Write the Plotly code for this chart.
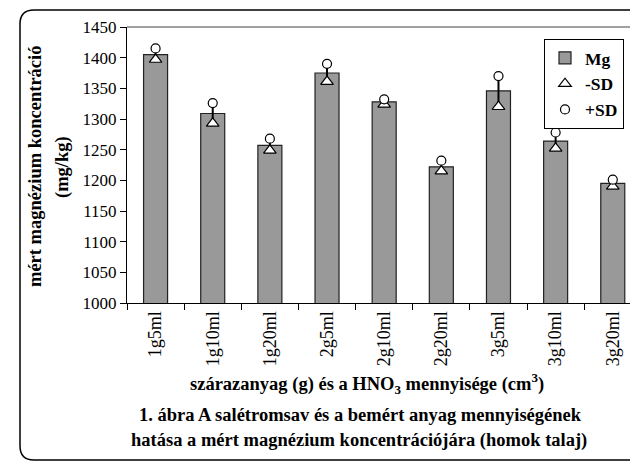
import plotly.graph_objects as go

categories = ["1g5ml", "1g10ml", "1g20ml", "2g5ml", "2g10ml", "2g20ml", "3g5ml", "3g10ml", "3g20ml"]
mg_values = [1405, 1309, 1257, 1375, 1328, 1222, 1346, 1264, 1195]
minus_sd = [1397, 1293, 1249, 1361, 1324, 1215, 1320, 1252, 1190]
plus_sd = [1415, 1326, 1268, 1390, 1332, 1232, 1370, 1278, 1201]

W, H = 630, 462
L, R, T, B = 127, 630, 27, 303  # plot area in pixels
FONT = "Liberation Serif"

def px(x):
    return (x - L) / (R - L)

def py(y):
    return (B - y) / (B - T)

fig = go.Figure()
fig.add_trace(go.Bar(
    x=categories, y=mg_values, name="<b>Mg</b>",
    marker=dict(color="#999999", line=dict(color="#222222", width=1.2)),
    width=0.42,
))
# error lines
ex, ey = [], []
for c, lo, hi in zip(categories, minus_sd, plus_sd):
    ex += [c, c, None]
    ey += [lo, hi, None]
fig.add_trace(go.Scatter(x=ex, y=ey, mode="lines", line=dict(color="black", width=2),
                         showlegend=False, hoverinfo="skip"))
fig.add_trace(go.Scatter(
    x=categories, y=minus_sd, mode="markers", name="<b>-SD</b>",
    marker=dict(symbol="triangle-up", size=11, color="white", line=dict(color="black", width=1.2)),
))
fig.add_trace(go.Scatter(
    x=categories, y=plus_sd, mode="markers", name="<b>+SD</b>",
    marker=dict(symbol="circle", size=9, color="white", line=dict(color="black", width=1.2)),
))

# outer rounded frame (left part, continuing off the right edge)
x0, y0, x1, y1, r = 20, 10, 660, 460, 14
path = (f"M {px(x1)} {py(y0)} L {px(x0 + r)} {py(y0)} "
        f"Q {px(x0)} {py(y0)} {px(x0)} {py(y0 + r)} "
        f"L {px(x0)} {py(y1 - r)} Q {px(x0)} {py(y1)} {px(x0 + r)} {py(y1)} "
        f"L {px(x1)} {py(y1)}")
shapes = [
    dict(type="path", xref="paper", yref="paper", path=path,
         line=dict(color="black", width=1.5), layer="below"),
    dict(type="line", xref="paper", yref="paper", x0=0, x1=1, y0=1, y1=1,
         line=dict(color="#808080", width=1.5)),
]

def ann(text, x, y, angle=0, size=18):
    return dict(text=text, xref="paper", yref="paper", x=px(x), y=py(y),
                xanchor="center", yanchor="middle", textangle=angle, showarrow=False,
                font=dict(family=FONT, size=size, color="black"))

annotations = [
    ann("<b>mért magnézium koncentráció</b>", 35, 167, -90, 18.5),
    ann("<b>(mg/kg)</b>", 62, 167, -90, 18.5),
    ann("<b>szárazanyag (g) és a HNO<sub>3</sub> mennyisége (cm<sup>3</sup>)</b>", 367, 383, 0, 18.5),
    ann("<b>1. ábra A salétromsav és a bemért anyag mennyiségének</b>", 360, 415, 0, 18.5),
    ann("<b>hatása a mért magnézium koncentrációjára (homok talaj)</b>", 359, 440, 0, 18.5),
]

fig.update_layout(
    width=W, height=H,
    margin=dict(l=L, r=W - R, t=T, b=H - B, pad=0),
    paper_bgcolor="white", plot_bgcolor="white",
    font=dict(family=FONT, size=16, color="black"),
    showlegend=True,
    legend=dict(x=px(544), y=py(39), xanchor="left", yanchor="top",
                bgcolor="white", bordercolor="black", borderwidth=1,
                font=dict(family=FONT, size=17.5, color="black"),
                tracegroupgap=0, itemwidth=30),
    xaxis=dict(type="category", categoryorder="array", categoryarray=categories,
               range=[-0.5, -0.5 + (R - L) / 57.15],
               tickson="boundaries", ticks="outside", ticklen=6, tickcolor="black",
               showline=True, linecolor="black", linewidth=1.2,
               tickangle=-90, tickfont=dict(family=FONT, size=18),
               showgrid=False, zeroline=False),
    yaxis=dict(range=[1000, 1450], dtick=50, ticks="outside", ticklen=6,
               tickcolor="black", showline=True, linecolor="black", linewidth=1.2,
               tickfont=dict(family=FONT, size=17), showgrid=False, zeroline=False),
    shapes=shapes, annotations=annotations,
)

fig.write_html("out.html")
